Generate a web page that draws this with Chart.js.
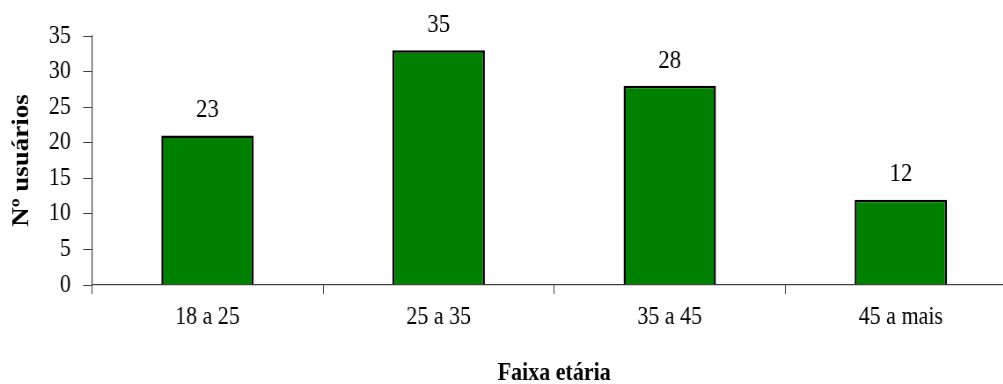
<!DOCTYPE html>
<html>
<head>
<meta charset="utf-8">
<script src="https://cdn.jsdelivr.net/npm/chart.js@4"></script>
<style>
  html, body { margin: 0; padding: 0; background: #fff; overflow: hidden; }
  /* the reference text is narrow, so draw wider and squeeze horizontally */
  #wrap { width: 1155px; height: 384px; transform: scaleX(0.88); transform-origin: 0 0; }
</style>
</head>
<body>
<div id="wrap"><canvas id="faixaChart"></canvas></div>
<script>
const categorias = ['18 a 25', '25 a 35', '35 a 45', '45 a mais'];
const alturas = [21, 33, 28, 12];
const rotulos = ['23', '35', '28', '12'];
const ticksY = [0, 5, 10, 15, 20, 25, 30, 35];

const fonte = 'Liberation Serif, Times New Roman, serif';

// rótulos em cima das barras
const rotulosPlugin = {
  id: 'rotulos',
  afterDatasetsDraw(chart) {
    const ctx = chart.ctx;
    const meta = chart.getDatasetMeta(0);
    ctx.save();
    ctx.font = '26px ' + fonte;
    ctx.fillStyle = '#000';
    ctx.textAlign = 'center';
    ctx.textBaseline = 'middle';
    meta.data.forEach((bar, i) => ctx.fillText(rotulos[i], bar.x, bar.y - 25));
    ctx.restore();
  }
};

const ctx = document.getElementById('faixaChart').getContext('2d');
new Chart(ctx, {
  type: 'bar',
  data: {
    labels: categorias,
    datasets: [{
      data: alturas,
      backgroundColor: '#008000',
      borderColor: '#000',
      borderWidth: 2.5,
      categoryPercentage: 1,
      barPercentage: 0.4
    }]
  },
  options: {
    responsive: true,
    maintainAspectRatio: false,
    animation: false,
    layout: { padding: { top: 36, right: 0, bottom: 0, left: 0 } },
    plugins: { legend: { display: false }, tooltip: { enabled: false } },
    scales: {
      x: {
        afterFit: (s) => { s.height = 99; },
        grid: { offset: true, drawOnChartArea: false, drawTicks: true, tickLength: 9, color: '#404040' },
        border: { display: true, color: '#404040', width: 1.2 },
        ticks: { color: '#000', padding: 8, font: { family: fonte, size: 25 } },
        title: {
          display: true, text: 'Faixa etária', color: '#000',
          padding: 0,
          font: { family: fonte, size: 25, weight: 'bold', lineHeight: 0.8 }
        }
      },
      y: {
        min: 0,
        max: 35,
        afterFit: (s) => { s.width = 104.5; },
        afterBuildTicks: (s) => { s.ticks = ticksY.map(v => ({ value: v })); },
        grid: { drawOnChartArea: false, drawTicks: true, tickLength: 10, color: '#404040' },
        border: { display: true, color: '#404040', width: 1.2 },
        ticks: { color: '#000', padding: 14, font: { family: fonte, size: 25 } },
        title: {
          display: true, text: 'Nº usuários', color: '#000',
          padding: { top: 14, bottom: 0 },
          font: { family: fonte, size: 27, weight: 'bold', lineHeight: 0.8 }
        }
      }
    }
  },
  plugins: [rotulosPlugin]
});
</script>
</body>
</html>
